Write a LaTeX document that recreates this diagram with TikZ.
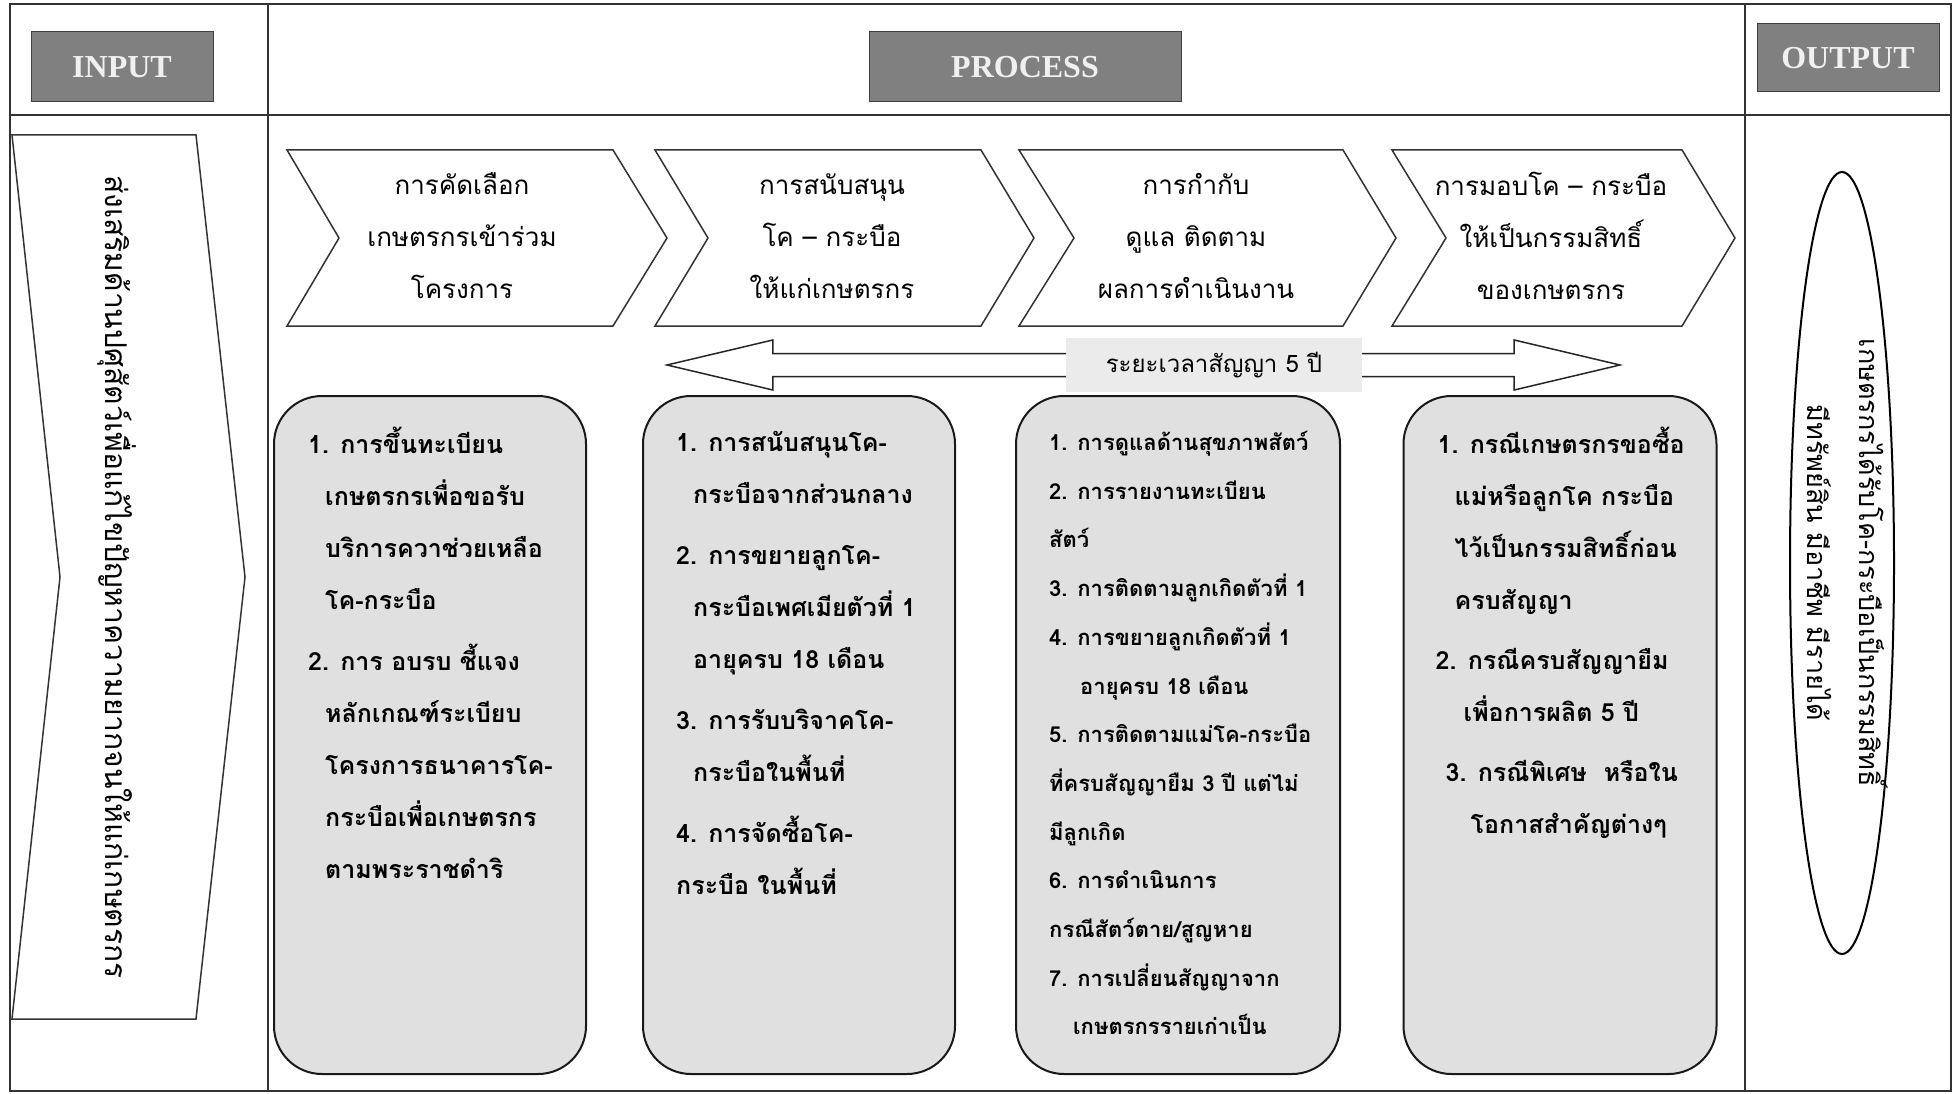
\documentclass[tikz,border=0pt]{standalone}
\usepackage{fontspec}
\setmainfont{Liberation Serif}
\newfontfamily\thaifont[Script=Thai]{Loma}
\usetikzlibrary{shapes.geometric}

\tikzset{
  headbox/.style={draw=black!75, line width=1pt, fill=black!50, text=white!94!black,
    font=\bfseries\fontsize{32}{32}\selectfont, inner sep=0pt},
  frameline/.style={draw=black!80, line width=1.5pt},
  stepshape/.style={draw=black!80, line width=1.5pt, fill=white, line join=miter},
  steplabel/.style={align=center, font=\thaifont\fontsize{26}{52}\selectfont},
  taskbox/.style={draw=black!90, line width=2pt, fill=black!12, rounded corners=48pt},
  tasklist/.style={anchor=north west, align=left, inner sep=0pt,
    font=\thaifont\bfseries\fontsize{25}{52}\selectfont},
  blockarrow/.style={draw=black!85, line width=1.5pt, fill=white, line join=miter},
}

\begin{document}
\begin{tikzpicture}[x=1pt, y=-1pt]
  \useasboundingbox (0,0) rectangle (1954,1094);
  % frame
  \draw[frameline] (10,4) rectangle (1951,1091);
  \draw[frameline] (10,115) -- (1951,115);
  \draw[frameline] (268,4) -- (268,1091);
  \draw[frameline] (1745,4) -- (1745,1091);

  \node[headbox, minimum width=182pt, minimum height=70pt] (input) at (122,67) {INPUT};
  \node[headbox, minimum width=312pt, minimum height=70pt] (process) at (1025,67) {PROCESS};
  \node[headbox, minimum width=182pt, minimum height=68pt] (output) at (1848,58) {OUTPUT};

  % input
  \draw[stepshape] (12,135) -- (196,135) -- (245,577) -- (196,1019) -- (12,1019) -- (60,577) -- cycle;
  \node[rotate=-90, font=\thaifont\fontsize{30}{30}\selectfont] (goal) at (117,577)
    {ส่งเสริมด้านปศุสัตว์เพื่อแก้ไขปัญหาความยากจนให้แก่เกษตรกร};

  % process steps
  \foreach \l/\n/\r/\t/\c/\name/\txt in {
      287/339/613/667/462/select/{การคัดเลือก\\เกษตรกรเข้าร่วม\\โครงการ},
      655/708/981/1034/832/support/{การสนับสนุน\\โค – กระบือ\\ให้แก่เกษตรกร},
      1019/1074/1343/1396/1196/monitor/{การกำกับ\\ดูแล ติดตาม\\ผลการดำเนินงาน},
      1392/1446/1682/1735/1551/transfer/{การมอบโค – กระบือ\\ให้เป็นกรรมสิทธิ์\\ของเกษตรกร}}{
    \draw[stepshape] (\l,150) -- (\r,150) -- (\t,238) -- (\r,326) -- (\l,326) -- (\n,238) -- cycle;
    \node[steplabel] (\name) at (\c,236) {\txt};
  }

  % contract period
  \node[fill=black!8, minimum width=296pt, minimum height=54pt,
    font=\thaifont\fontsize{24}{24}\selectfont] (term) at (1214,365) {ระยะเวลาสัญญา 5 ปี};
  \coordinate (lefttip) at (667,365);
  \coordinate (righttip) at (1620,365);
  \draw[blockarrow] ([yshift=11.5pt]term.west) -- ([shift={(-293pt,11.5pt)}]term.west)
    -- ([shift={(-293pt,25pt)}]term.west) -- (lefttip) -- ([shift={(-293pt,-25pt)}]term.west)
    -- ([shift={(-293pt,-11.5pt)}]term.west) -- ([yshift=-11.5pt]term.west);
  \draw[blockarrow] ([yshift=11.5pt]term.east) -- ([shift={(152pt,11.5pt)}]term.east)
    -- ([shift={(152pt,25pt)}]term.east) -- (righttip) -- ([shift={(152pt,-25pt)}]term.east)
    -- ([shift={(152pt,-11.5pt)}]term.east) -- ([yshift=-11.5pt]term.east);

  % detail boxes
  \node[taskbox, minimum width=312pt, minimum height=678pt] (taskA) at (430,735) {};
  \node[taskbox, minimum width=312pt, minimum height=678pt] (taskB) at (799,735) {};
  \node[taskbox, minimum width=324pt, minimum height=678pt] (taskC) at (1178,735) {};
  \node[taskbox, minimum width=313pt, minimum height=678pt] (taskD) at (1560,735) {};

  \node[tasklist] (listA) at ([xshift=35pt, yshift=-31.5pt]taskA.north west) {
    1. การขึ้นทะเบียน\\
    \hspace*{17pt}เกษตรกรเพื่อขอรับ\\
    \hspace*{17pt}บริการควาช่วยเหลือ\\
    \hspace*{17pt}โค-กระบือ\\[9pt]
    2. การ อบรบ ชี้แจง\\
    \hspace*{17pt}หลักเกณฑ์ระเบียบ\\
    \hspace*{17pt}โครงการธนาคารโค-\\
    \hspace*{17pt}กระบือเพื่อเกษตรกร\\
    \hspace*{17pt}ตามพระราชดำริ};
  \node[tasklist] (listB) at ([xshift=34pt, yshift=-36.5pt]taskB.north west) {
    1. การสนับสนุนโค-\\
    \hspace*{17pt}กระบือจากส่วนกลาง\\[9pt]
    2. การขยายลูกโค-\\
    \hspace*{17pt}กระบือเพศเมียตัวที่ 1\\
    \hspace*{17pt}อายุครบ 18 เดือน\\[9pt]
    3. การรับบริจาคโค-\\
    \hspace*{17pt}กระบือในพื้นที่\\[9pt]
    4. การจัดซื้อโค-\\
    กระบือ ในพื้นที่};
  \node[tasklist, font=\thaifont\bfseries\fontsize{22}{48.7}\selectfont] (listC)
    at ([xshift=34pt, yshift=-36pt]taskC.north west) {
    1. การดูแลด้านสุขภาพสัตว์\\
    2. การรายงานทะเบียน\\
    สัตว์\\
    3. การติดตามลูกเกิดตัวที่ 1\\
    4. การขยายลูกเกิดตัวที่ 1\\
    \hspace*{31pt}อายุครบ 18 เดือน\\
    5. การติดตามแม่โค-กระบือ\\
    ที่ครบสัญญายืม 3 ปี แต่ไม่\\
    มีลูกเกิด\\
    6. การดำเนินการ\\
    กรณีสัตว์ตาย/สูญหาย\\
    7. การเปลี่ยนสัญญาจาก\\
    \hspace*{24pt}เกษตรกรรายเก่าเป็น};
  \node[tasklist] (listD) at ([xshift=33pt, yshift=-31.5pt]taskD.north west) {
    \hspace*{2pt}1. กรณีเกษตรกรขอซื้อ\\
    \hspace*{19pt}แม่หรือลูกโค กระบือ\\
    \hspace*{19pt}ไว้เป็นกรรมสิทธิ์ก่อน\\
    \hspace*{19pt}ครบสัญญา\\[8pt]
    2. กรณีครบสัญญายืม\\
    \hspace*{28pt}เพื่อการผลิต 5 ปี\\[8pt]
    \hspace*{10pt}3. กรณีพิเศษ \ หรือใน\\
    \hspace*{35pt}โอกาสสำคัญต่างๆ};

  % output
  \node[ellipse, draw=black, line width=2pt, minimum width=104pt, minimum height=782pt] (result) at (1842,563) {};
  \node[rotate=-90, align=center, font=\thaifont\fontsize{27}{52}\selectfont] (resulttext)
    at ([xshift=6pt]result.center)
    {เกษตรกรได้รับโค-กระบือเป็นกรรมสิทธิ์\\มีทรัพย์สิน มีอาชีพ มีรายได้};
\end{tikzpicture}
\end{document}
